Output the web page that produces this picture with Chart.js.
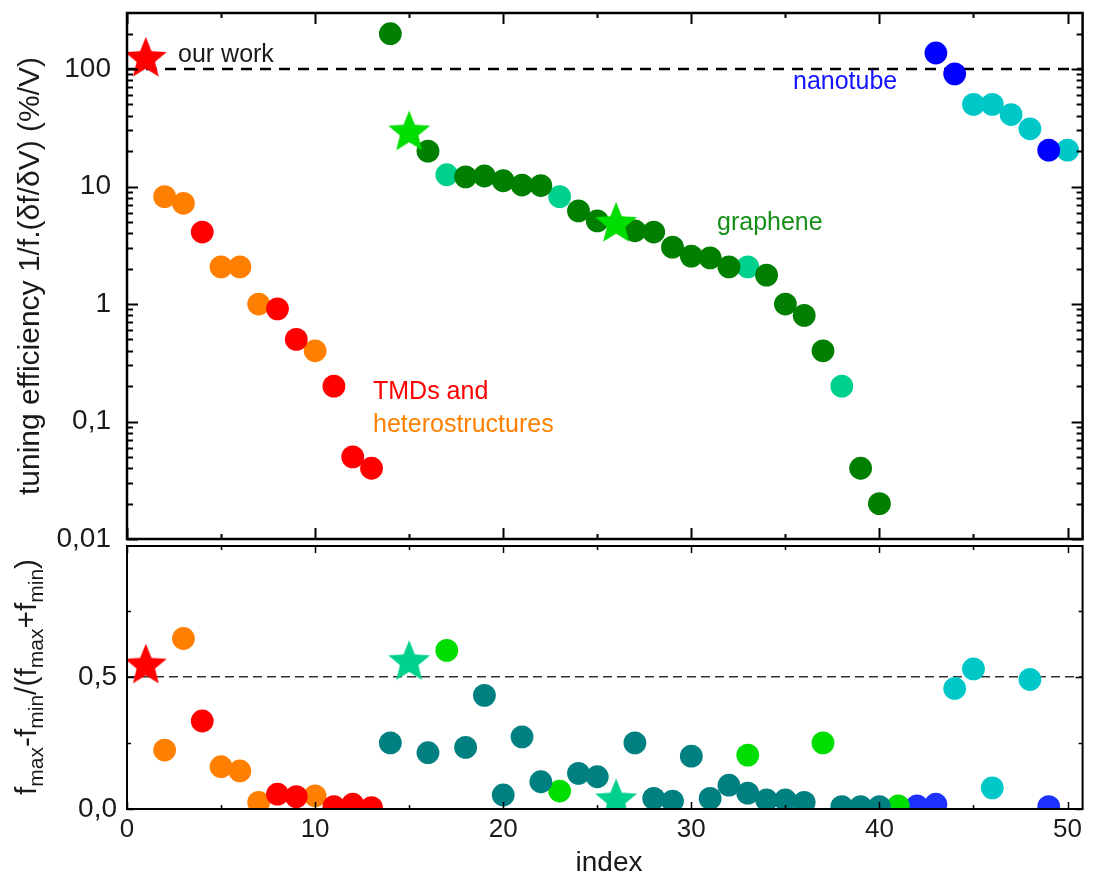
<!DOCTYPE html>
<html>
<head>
<meta charset="utf-8">
<script src="https://cdn.jsdelivr.net/npm/chart.js@4/dist/chart.umd.min.js"></script>
<style>
  html, body { margin: 0; padding: 0; background: #fff; }
  #wrap { position: relative; width: 1094px; height: 872px; }
  #wrap canvas { position: absolute; left: 0; top: 0; }
</style>
</head>
<body>
<div id="wrap">
  <canvas id="effChart" width="1094" height="872"></canvas>
  <canvas id="ratioChart" width="1094" height="872"></canvas>
</div>
<script>
// top panel: tuning efficiency 1/f.(df/dV) in %/V (log axis)
const effIndex = [1, 2, 3, 4, 5, 6, 7, 8, 9, 10, 11, 12, 13,
  14, 15, 16, 17, 18, 19, 20, 21, 22, 23, 24, 25, 26, 27, 28, 29, 30,
  31, 32, 33, 34, 35, 36, 37, 38, 39, 40,
  43, 44, 45, 46, 47, 48, 49, 50]
const effValue = [127, 8.2, 7.2, 4.1, 2.07, 2.07, 1.0, 0.91, 0.5, 0.4, 0.2, 0.05, 0.04,
  200, 30, 20, 12.6, 12.1, 12.3, 11.2, 10.3, 10.2, 8.2, 6.2, 5.1, 5.0, 4.2, 4.1, 3.05, 2.56,
  2.47, 2.07, 2.07, 1.76, 1.0, 0.8, 0.4, 0.2, 0.04, 0.02,
  137, 91, 50, 50, 41, 31, 20.4, 20.4]
const effGroup = ["ours", "hetero", "hetero", "tmd", "hetero", "hetero", "hetero", "tmd", "tmd", "hetero", "tmd", "tmd", "tmd",
  "graphene", "grapheneStar", "graphene", "grapheneB", "graphene", "graphene", "graphene", "graphene", "graphene", "grapheneB", "graphene", "graphene", "grapheneStar", "graphene", "graphene", "graphene", "graphene",
  "graphene", "graphene", "grapheneB", "graphene", "graphene", "graphene", "graphene", "grapheneB", "graphene", "graphene",
  "nanotube", "nanotube", "nanotubeB", "nanotubeB", "nanotubeB", "nanotubeB", "nanotube", "nanotubeB"]

// bottom panel: (fmax-fmin)/(fmax+fmin)
const ratioIndex = [1, 2, 3, 4, 5, 6, 7, 8, 9, 10, 11, 12, 13,
  14, 15, 16, 17, 18, 19, 20, 21, 22, 23, 24, 25, 26, 27, 28, 29, 30,
  31, 32, 33, 33, 34, 35, 36, 37, 38, 39, 40, 41,
  42, 43, 44, 45, 46, 48, 49]
const ratioValue = [0.55, 0.223, 0.645, 0.333, 0.16, 0.144, 0.025, 0.056, 0.047, 0.05, 0.009, 0.018, 0.005,
  0.25, 0.563, 0.213, 0.6, 0.233, 0.43, 0.053, 0.273, 0.103, 0.068, 0.135, 0.122, 0.04, 0.25, 0.04, 0.03, 0.2,
  0.04, 0.09, 0.06, 0.204, 0.034, 0.034, 0.025, 0.25, 0.009, 0.009, 0.009, 0.012,
  0.012, 0.018, 0.456, 0.53, 0.08, 0.49, 0.009]
const ratioGroup = ["ours", "hetero", "hetero", "tmd", "hetero", "hetero", "hetero", "tmd", "tmd", "hetero", "tmd", "tmd", "tmd",
  "graphene", "grapheneStar", "graphene", "grapheneB", "graphene", "graphene", "graphene", "graphene", "graphene", "grapheneB", "graphene", "graphene", "grapheneStar", "graphene", "graphene", "graphene", "graphene",
  "graphene", "graphene", "graphene", "grapheneB", "graphene", "graphene", "graphene", "grapheneB", "graphene", "graphene", "graphene", "grapheneB",
  "nanotube", "nanotube", "nanotubeB", "nanotubeB", "nanotubeB", "nanotubeB", "nanotube"]

const indexTicks = [0, 10, 20, 30, 40, 50]
const effTicks = [0.01, 0.1, 1, 10, 100]
const effTickLabels = ["0,01", "0,1", "1", "10", "100"]
const ratioTicks = [0, 0.5]
const ratioTickLabels = ["0,0", "0,5"]
const effRef = 100
const ratioRef = 0.5

const FONT = "'Liberation Sans', Arial, sans-serif"
const X_MAX = 50.8

const effStyle = {
  ours: { color: "#ff0000", star: true },
  tmd: { color: "#ff0000" },
  hetero: { color: "#ff8000" },
  graphene: { color: "#007f00" },
  grapheneB: { color: "#00d08e" },
  grapheneStar: { color: "#00dd00", star: true },
  nanotube: { color: "#0000ff" },
  nanotubeB: { color: "#00c8c8" }
}
const ratioStyle = {
  ours: { color: "#ff0000", star: true },
  tmd: { color: "#ff0000" },
  hetero: { color: "#ff8000" },
  graphene: { color: "#008080" },
  grapheneB: { color: "#00dd00" },
  grapheneStar: { color: "#00d08e", star: true },
  nanotube: { color: "#1e32ff" },
  nanotubeB: { color: "#00c8c8" }
}

function makeStar(color, r) {
  const c = document.createElement("canvas")
  const size = Math.ceil(r * 2 + 2)
  c.width = c.height = size
  const ctx = c.getContext("2d")
  ctx.fillStyle = color
  ctx.beginPath()
  for (let i = 0; i < 10; i++) {
    const rad = i % 2 ? r * 0.44 : r
    const a = -Math.PI / 2 + i * Math.PI / 5
    const px = size / 2 + rad * Math.cos(a)
    const py = size / 2 + 2 + rad * Math.sin(a)
    if (i == 0) ctx.moveTo(px, py)
    else ctx.lineTo(px, py)
  }
  ctx.closePath()
  ctx.fill()
  return c
}

function buildDatasets(idx, vals, groups, styles, ref, refStyle) {
  const sets = Object.keys(styles).map(g => {
    const s = styles[g]
    const pts = []
    idx.forEach((x, i) => { if (groups[i] == g) pts.push({ x: x, y: vals[i] }) })
    return {
      label: g,
      data: pts,
      order: s.star ? 0 : 1,
      pointStyle: s.star ? makeStar(s.color, 22) : "circle",
      pointRadius: 11.4,
      pointBackgroundColor: s.color,
      pointBorderWidth: 0,
      showLine: false
    }
  })
  sets.push({
    label: "ref",
    data: [{ x: 0, y: ref }, { x: X_MAX, y: ref }],
    order: 5,
    showLine: true,
    pointRadius: 0,
    borderColor: refStyle.color,
    borderWidth: refStyle.width,
    borderDash: refStyle.dash
  })
  return sets
}

// box + inward ticks on all four sides
const framePlugin = {
  id: "frame",
  afterDatasetsDraw(chart, args, o) {
    const { ctx, chartArea: a } = chart
    const x = chart.scales.x, y = chart.scales.y
    ctx.save()
    ctx.strokeStyle = "#000"
    ctx.lineWidth = o.tickWidth
    ctx.beginPath()
    const xt = (v, len) => {
      const px = Math.round(x.getPixelForValue(v)) + 0.5
      ctx.moveTo(px, a.top); ctx.lineTo(px, a.top + len)
      ctx.moveTo(px, a.bottom); ctx.lineTo(px, a.bottom - len)
    }
    const yt = (v, len) => {
      const py = Math.round(y.getPixelForValue(v)) + 0.5
      ctx.moveTo(a.left, py); ctx.lineTo(a.left + len, py)
      ctx.moveTo(a.right, py); ctx.lineTo(a.right - len, py)
    }
    for (let v = 0; v <= 50; v += 10) xt(v, o.xMajor)
    for (let v = 5; v <= 50; v += 10) xt(v, o.xMinor)
    o.yMajorAt.forEach(v => yt(v, o.yMajor))
    o.yMinorAt.forEach(v => yt(v, o.yMinor))
    ctx.stroke()
    ctx.lineWidth = o.boxWidth
    ctx.strokeRect(a.left, a.top, a.right - a.left, a.bottom - a.top)
    ctx.restore()
  }
}

const effMinor = []
for (let d = 0.01; d < 300; d *= 10) {
  for (let k = 2; k <= 9; k++) if (d * k < 300) effMinor.push(d * k)
}

const textPlugin = {
  id: "texts",
  afterDraw(chart, args, o) {
    const ctx = chart.ctx
    ctx.save()
    o.items.forEach(t => {
      ctx.font = t.size + "px " + FONT
      ctx.fillStyle = t.color || "#1a1a1a"
      ctx.textBaseline = "alphabetic"
      ctx.textAlign = t.align || "left"
      ctx.fillText(t.text, t.x, t.y)
    })
    if (o.rotated) {
      const r = o.rotated
      ctx.translate(r.x, r.y)
      ctx.rotate(-Math.PI / 2)
      ctx.fillStyle = "#1a1a1a"
      ctx.textAlign = "left"
      ctx.textBaseline = "alphabetic"
      let w = 0
      r.parts.forEach(p => {
        ctx.font = (p.sub ? r.subSize : r.size) + "px " + FONT
        w += ctx.measureText(p.t).width
      })
      let cx = -w / 2
      r.parts.forEach(p => {
        ctx.font = (p.sub ? r.subSize : r.size) + "px " + FONT
        ctx.fillText(p.t, cx, p.sub ? r.subShift : 0)
        cx += ctx.measureText(p.t).width
      })
    }
    ctx.restore()
  }
}

Chart.register(framePlugin, textPlugin)

const fixY = s => { s.width = 127; s.paddingTop = 0; s.paddingBottom = 0 }

new Chart(document.getElementById("effChart"), {
  type: "scatter",
  data: { datasets: buildDatasets(effIndex, effValue, effGroup, effStyle, effRef, { color: "#000", width: 2.5, dash: [11, 8] }) },
  options: {
    responsive: false,
    animation: false,
    layout: { padding: { top: 13, right: 4, bottom: 333, left: 0 } },
    scales: {
      x: { type: "linear", min: 0, max: X_MAX, display: false },
      y: {
        type: "logarithmic",
        min: 0.01,
        max: 300,
        afterFit: fixY,
        afterBuildTicks: s => { s.ticks = effTicks.map(v => ({ value: v })) },
        grid: { display: false, drawTicks: false },
        border: { display: false },
        ticks: {
          autoSkip: false,
          padding: 16,
          color: "#1a1a1a",
          font: { family: FONT, size: 28 },
          callback: (v, i) => effTickLabels[i]
        }
      }
    },
    plugins: {
      legend: { display: false },
      tooltip: { enabled: false },
      frame: { boxWidth: 2.5, tickWidth: 2, xMajor: 11, xMinor: 5, yMajor: 11, yMinor: 6, yMajorAt: effTicks, yMinorAt: effMinor },
      texts: {
        items: [
          { text: "our work", x: 178, y: 62, size: 25 },
          { text: "nanotube", x: 793, y: 89, size: 25, color: "#1414ff" },
          { text: "graphene", x: 717, y: 230, size: 25, color: "#168f16" },
          { text: "TMDs and", x: 373, y: 399, size: 25, color: "#ff0000" },
          { text: "heterostructures", x: 373, y: 432, size: 25, color: "#ff8000" }
        ],
        rotated: { x: 39, y: 276, size: 30, subSize: 30, subShift: 0, parts: [{ t: "tuning efficiency 1/f.(\u03b4f/\u03b4V) (%/V)" }] }
      }
    }
  }
})

new Chart(document.getElementById("ratioChart"), {
  type: "scatter",
  data: { datasets: buildDatasets(ratioIndex, ratioValue, ratioGroup, ratioStyle, ratioRef, { color: "#333", width: 1.5, dash: [9, 5] }) },
  options: {
    responsive: false,
    animation: false,
    layout: { padding: { top: 546, right: 4, bottom: 0, left: 0 } },
    scales: {
      x: {
        type: "linear",
        min: 0,
        max: X_MAX,
        afterFit: s => { s.height = 63 },
        afterBuildTicks: s => { s.ticks = indexTicks.map(v => ({ value: v })) },
        grid: { display: false, drawTicks: false },
        border: { display: false },
        ticks: {
          autoSkip: false,
          maxRotation: 0,
          padding: 5,
          color: "#1a1a1a",
          font: { family: FONT, size: 26 }
        }
      },
      y: {
        type: "linear",
        min: 0,
        max: 0.995,
        afterFit: fixY,
        afterBuildTicks: s => { s.ticks = ratioTicks.map(v => ({ value: v })) },
        grid: { display: false, drawTicks: false },
        border: { display: false },
        ticks: {
          autoSkip: false,
          padding: 10,
          color: "#1a1a1a",
          font: { family: FONT, size: 28 },
          callback: (v, i) => ratioTickLabels[i]
        }
      }
    },
    plugins: {
      legend: { display: false },
      tooltip: { enabled: false },
      frame: { boxWidth: 2, tickWidth: 1.5, xMajor: 7, xMinor: 4, yMajor: 7, yMinor: 4, yMajorAt: ratioTicks, yMinorAt: [0.25, 0.75] },
      texts: {
        items: [{ text: "index", x: 609, y: 871, size: 28, align: "center" }],
        rotated: {
          x: 36, y: 677, size: 30, subSize: 21, subShift: 7,
          parts: [
            { t: "f" }, { t: "max", sub: true }, { t: "-f" }, { t: "min", sub: true },
            { t: "/(f" }, { t: "max", sub: true }, { t: "+f" }, { t: "min", sub: true }, { t: ")" }
          ]
        }
      }
    }
  }
})
</script>
</body>
</html>
